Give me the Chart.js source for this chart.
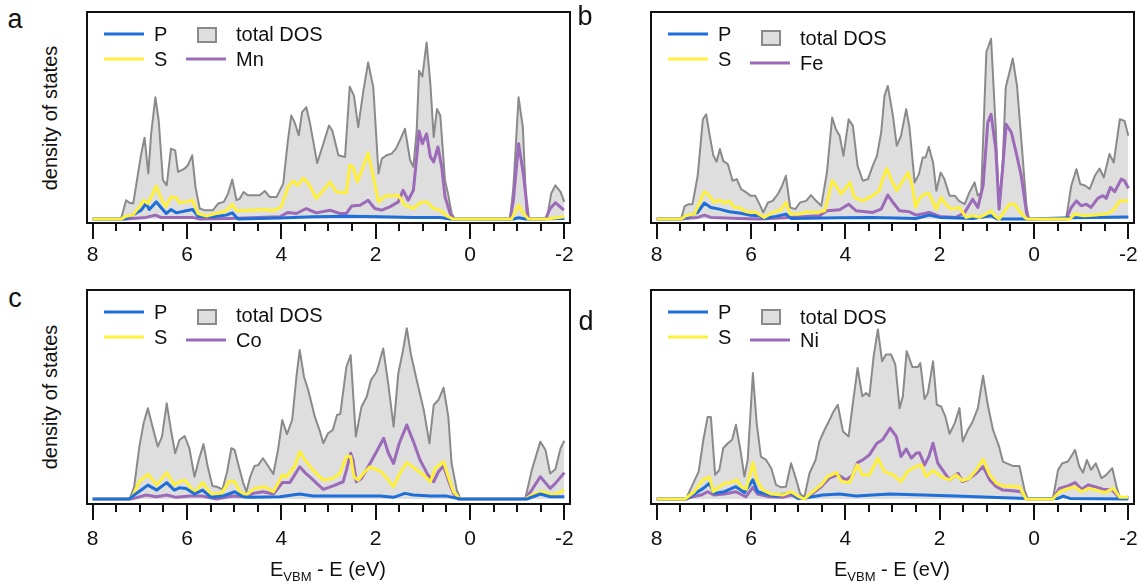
<!DOCTYPE html>
<html>
<head>
<meta charset="utf-8">
<title>Projected density of states</title>
<script src="https://cdn.jsdelivr.net/npm/chart.js@4.4.1/dist/chart.umd.min.js"></script>
<style>
  html, body { margin: 0; padding: 0; background: #fff; }
  #fig { position: relative; width: 1138px; height: 586px; overflow: hidden;
         font-family: "Liberation Sans", Arial, Helvetica, sans-serif; color: #111; }
  .panel { position: absolute; }
  .txt { position: absolute; white-space: nowrap; line-height: 1; transform: translateY(-50%); }
  .letter { position: absolute; font-size: 27px; line-height: 1; transform: translate(-50%, -50%); }
  .ytitle { position: absolute; font-size: 20px; line-height: 1; white-space: nowrap;
            transform: translate(-50%, -50%) rotate(-90deg); }
  .xtitle { position: absolute; font-size: 20px; line-height: 1; white-space: nowrap;
            transform: translate(-50%, -50%); }
  .xtitle sub { font-size: 13px; vertical-align: -5px; }
  .lline { position: absolute; height: 3px; transform: translateY(-50%); }
  .lbox { position: absolute; box-sizing: border-box; border: 2px solid #8a8a8a; background: #dedede; }
</style>
</head>
<body>
<div id="fig">
  <div class="panel" style="left:80px;top:0px"><canvas id="chart-a" width="500" height="280"></canvas></div>
  <div class="panel" style="left:640px;top:0px"><canvas id="chart-b" width="498" height="280"></canvas></div>
  <div class="panel" style="left:80px;top:280px"><canvas id="chart-c" width="500" height="290"></canvas></div>
  <div class="panel" style="left:640px;top:280px"><canvas id="chart-d" width="498" height="290"></canvas></div>

  <div class="letter" style="left:15px;top:19px">a</div>
  <div class="letter" style="left:585px;top:16px">b</div>
  <div class="letter" style="left:15px;top:298px">c</div>
  <div class="letter" style="left:586px;top:321px">d</div>

  <div class="ytitle" style="left:50px;top:118px">density of states</div>
  <div class="ytitle" style="left:50px;top:397px">density of states</div>

  <div class="xtitle" style="left:328px;top:571px">E<sub>VBM</sub> - E (eV)</div>
  <div class="xtitle" style="left:892px;top:571px">E<sub>VBM</sub> - E (eV)</div>
</div>

<script>
(function () {
  // energy ticks (eV), axis runs from 8 down to -2
  var majorTicks = [8, 6, 4, 2, 0, -2];
  var minorTicks = [7.5, 7, 6.5, 5.5, 5, 4.5, 3.5, 3, 2.5, 1.5, 1, 0.5, -0.5, -1, -1.5];

  var COLORS = {
    total: "#8a8a8a",
    totalFill: "#dedede",
    P: "#1f6fd8",
    S: "#fff03c",
    metal: "#9b6ab8"
  };

  // ---- MnPS3 ----
  var aTotal = [[8,0],[7.4,0],[7.29,0.91],[7.22,0.79],[7.14,0.75],[6.97,3.16],[6.9,3.93],[6.82,2.2],[6.76,4.12],[6.67,5.88],[6.6,4.76],[6.51,1.88],[6.43,1.63],[6.34,3.4],[6.25,3.32],[6.19,2.28],[6.05,2.44],[5.98,2.6],[5.89,3.08],[5.82,1.55],[5.73,0.51],[5.63,0.43],[5.45,0.43],[5.34,0.75],[5.22,0.83],[5.13,1.23],[5.04,1.91],[4.95,0.91],[4.88,0.99],[4.8,1.31],[4.71,1.15],[4.46,1.15],[4.35,1.36],[4.25,1.07],[4.1,1.07],[3.96,1.71],[3.86,3.8],[3.79,5.0],[3.72,4.68],[3.63,4.04],[3.56,5.16],[3.47,5.4],[3.39,4.6],[3.24,2.71],[3.11,3.64],[2.99,4.52],[2.92,4.28],[2.79,3.08],[2.65,3.0],[2.55,6.39],[2.46,5.96],[2.37,4.44],[2.26,6.2],[2.16,7.56],[2.05,6.36],[1.94,2.2],[1.87,2.92],[1.77,3.08],[1.66,3.16],[1.57,3.4],[1.47,3.88],[1.38,4.36],[1.27,2.84],[1.2,2.52],[1.13,4.28],[1.08,7.16],[1.01,6.88],[0.92,8.53],[0.84,6.52],[0.77,3.96],[0.7,5.32],[0.63,5.0],[0.53,1.88],[0.46,1.15],[0.39,0.27],[0.32,0],[-0.85,0],[-0.92,1.55],[-1.03,5.88],[-1.12,4.44],[-1.2,0.27],[-1.27,0],[-1.63,0],[-1.72,1.23],[-1.81,1.63],[-1.92,1.31],[-2,0.83]];
  var aMn = [[8,0],[7.29,0],[7.15,0.03],[6.87,0.08],[6.67,0.19],[6.55,0.08],[6.23,0.08],[5.88,0.08],[5.73,0],[5.1,0.03],[4.03,0.11],[3.86,0.32],[3.68,0.27],[3.47,0.51],[3.26,0.3],[2.97,0.43],[2.76,0.27],[2.62,0.27],[2.51,0.63],[2.33,0.67],[2.16,0.91],[2.02,0.51],[1.87,0.43],[1.7,0.59],[1.52,0.83],[1.42,1.39],[1.31,0.91],[1.2,1.39],[1.13,3.0],[1.08,4.25],[1.01,3.64],[0.92,4.12],[0.84,3.0],[0.77,2.76],[0.68,3.48],[0.6,2.52],[0.53,1.07],[0.42,0.27],[0.35,0],[-0.85,0],[-0.92,0.91],[-1.03,3.64],[-1.13,2.2],[-1.24,0],[-1.6,0],[-1.7,0.51],[-1.81,0.79],[-1.99,0.43]];
  var aS = [[8,0],[7.4,0],[7.29,0.14],[7.15,0.19],[7.01,0.59],[6.92,0.91],[6.83,0.75],[6.74,1.15],[6.65,1.59],[6.55,0.99],[6.45,0.59],[6.34,1.07],[6.23,1.04],[6.16,0.79],[6.02,0.83],[5.88,0.91],[5.77,0.27],[5.59,0.14],[5.38,0.27],[5.17,0.4],[5.04,0.72],[4.95,0.4],[4.6,0.43],[4.32,0.46],[4.18,0.4],[4.0,0.59],[3.86,1.55],[3.75,1.84],[3.65,1.63],[3.53,1.99],[3.4,1.63],[3.26,0.99],[3.11,1.39],[2.97,1.79],[2.83,1.31],[2.62,1.27],[2.55,2.6],[2.48,2.52],[2.39,1.79],[2.28,2.44],[2.16,3.19],[2.05,2.04],[1.94,0.83],[1.8,1.11],[1.52,1.15],[1.38,0.67],[1.2,0.51],[1.06,0.79],[0.92,0.83],[0.77,0.51],[0.63,0.43],[0.49,0.14],[0.35,0],[-0.88,0],[-1.03,0.67],[-1.13,0.27],[-1.24,0],[-1.63,0],[-2,0.11]];
  var aP = [[8,0],[7.4,0],[7.29,0.03],[6.97,0.43],[6.87,0.75],[6.8,0.46],[6.65,0.83],[6.55,0.56],[6.44,0.27],[6.34,0.46],[6.23,0.3],[6.02,0.4],[5.88,0.46],[5.77,0.14],[5.45,0.11],[5.17,0.19],[5.04,0.3],[4.92,0],[4.03,0.05],[3.32,0.11],[2.55,0.14],[1.91,0.11],[1.2,0.08],[0.63,0.08],[0.42,0],[-0.92,0],[-1.03,0.06],[-1.17,0],[-2,0.03]];

  // ---- FePS3 ----
  var bTotal = [[8,0],[7.48,0],[7.41,0.61],[7.32,0.72],[7.24,0.72],[7.13,2.09],[7.02,4.82],[6.95,5.06],[6.88,4.1],[6.8,3.09],[6.73,2.77],[6.66,3.38],[6.59,2.81],[6.49,2.65],[6.39,1.85],[6.3,1.93],[6.21,1.45],[6.1,1.29],[6.01,1.13],[5.91,1.13],[5.82,0.72],[5.74,0.32],[5.64,0.8],[5.54,0.88],[5.43,1.21],[5.34,1.61],[5.26,2.09],[5.17,0.56],[5.06,0.48],[4.96,0.8],[4.83,0.88],[4.73,1.16],[4.62,0.88],[4.51,0.64],[4.39,2.25],[4.28,4.9],[4.2,4.34],[4.12,4.02],[4.04,3.05],[3.93,4.82],[3.84,4.5],[3.74,2.57],[3.63,1.85],[3.52,1.93],[3.42,2.57],[3.33,3.05],[3.24,4.18],[3.17,5.95],[3.1,6.43],[2.99,4.98],[2.91,3.54],[2.82,4.02],[2.71,5.31],[2.64,4.42],[2.53,1.77],[2.44,2.17],[2.36,2.97],[2.3,2.97],[2.23,3.49],[2.14,2.73],[2.07,1.37],[1.98,2.25],[1.9,1.93],[1.79,1.13],[1.68,1.13],[1.59,0.88],[1.47,0.72],[1.37,1.29],[1.26,1.77],[1.19,1.13],[1.12,1.29],[1.01,8.07],[0.91,8.71],[0.81,4.34],[0.74,0.48],[0.66,2.89],[0.6,6.35],[0.53,6.99],[0.45,7.75],[0.36,6.43],[0.27,3.86],[0.16,0.64],[0.11,0],[-0.68,0],[-0.79,1.61],[-0.9,2.41],[-0.98,1.69],[-1.09,1.61],[-1.18,1.45],[-1.29,2.09],[-1.39,2.44],[-1.48,2.01],[-1.6,3.14],[-1.69,2.73],[-1.82,4.82],[-1.92,4.74],[-2,4.02]];
  var bFe = [[8,0],[7.48,0],[7.38,0.03],[7.13,0.08],[6.99,0.19],[6.85,0.08],[6.25,0.03],[5.82,0],[5.26,0.06],[4.55,0.16],[4.39,0.4],[4.12,0.45],[3.93,0.72],[3.77,0.4],[3.42,0.32],[3.24,0.48],[3.1,1.16],[2.99,0.8],[2.85,0.4],[2.64,0.35],[2.5,0.19],[2.22,0.32],[2.0,0.13],[1.65,0.08],[1.47,0.32],[1.3,0.96],[1.19,0.56],[1.08,1.61],[0.98,4.66],[0.91,5.06],[0.81,3.38],[0.74,0.48],[0.66,2.57],[0.59,4.58],[0.48,4.18],[0.38,3.22],[0.27,2.09],[0.16,0.32],[0.11,0],[-0.68,0],[-0.79,0.56],[-0.9,0.88],[-1.0,0.64],[-1.11,0.72],[-1.21,0.56],[-1.35,1.0],[-1.46,1.13],[-1.53,1.0],[-1.62,1.53],[-1.71,1.32],[-1.85,1.93],[-1.92,1.85],[-2,1.48]];
  var bS = [[8,0],[7.48,0],[7.38,0.16],[7.2,0.24],[7.09,0.8],[6.99,1.32],[6.88,1.13],[6.78,0.8],[6.67,0.93],[6.56,0.77],[6.47,0.88],[6.35,0.56],[6.25,0.56],[6.1,0.35],[5.89,0.32],[5.72,0.08],[5.54,0.32],[5.36,0.45],[5.26,0.8],[5.17,0.24],[4.97,0.24],[4.83,0.35],[4.62,0.32],[4.44,0.4],[4.37,0.96],[4.28,1.85],[4.2,1.61],[4.09,1.21],[3.98,1.53],[3.9,1.77],[3.81,1.05],[3.63,0.88],[3.42,1.13],[3.28,1.37],[3.21,1.93],[3.12,2.44],[3.03,1.93],[2.91,1.37],[2.78,1.85],[2.67,2.25],[2.58,1.61],[2.51,0.56],[2.43,1.0],[2.32,1.21],[2.23,1.24],[2.14,0.8],[2.07,0.48],[1.97,1.05],[1.88,0.72],[1.76,0.48],[1.58,0.56],[1.44,0.08],[1.3,0.16],[1.16,0.08],[1.01,0.24],[0.91,0.4],[0.83,0.16],[0.74,0],[0.62,0.4],[0.52,0.72],[0.41,0.72],[0.31,0.4],[0.2,0.08],[0.13,0],[-0.76,0],[-0.86,0.24],[-1.04,0.16],[-1.25,0.19],[-1.53,0.24],[-1.67,0.4],[-1.82,0.88],[-2,0.88]];
  var bP = [[8,0],[7.48,0],[7.38,0.08],[7.13,0.32],[6.99,0.77],[6.85,0.56],[6.67,0.48],[6.46,0.35],[6.25,0.29],[6.03,0.19],[5.82,0.16],[5.72,0.03],[5.47,0.13],[5.26,0.24],[5.15,0.03],[4.12,0.06],[3.42,0.08],[2.5,0.03],[2.22,0.19],[2.0,0.08],[1.3,0.03],[0.91,0.16],[0.77,0],[0.16,0],[-0.83,0.06],[-2,0.1]];

  // ---- CoPS3 ----
  var cTotal = [[8,0],[7.22,0],[7.12,0.59],[7.01,2.52],[6.92,3.64],[6.83,4.36],[6.73,3.48],[6.62,2.52],[6.53,3.0],[6.43,4.6],[6.34,3.32],[6.25,2.2],[6.16,2.84],[6.05,3.03],[5.95,2.44],[5.84,1.07],[5.75,1.88],[5.65,2.64],[5.56,1.55],[5.46,0.63],[5.37,0.59],[5.25,0.46],[5.15,1.31],[5.06,2.44],[4.99,2.36],[4.9,1.55],[4.81,0.79],[4.74,0.35],[4.66,1.07],[4.57,1.59],[4.49,1.63],[4.39,1.96],[4.28,1.59],[4.17,1.2],[4.07,2.36],[3.98,3.8],[3.88,3.12],[3.77,3.8],[3.68,5.88],[3.61,7.16],[3.52,5.88],[3.43,5.24],[3.29,3.96],[3.18,3.24],[3.11,2.68],[3.01,3.16],[2.91,3.32],[2.82,4.04],[2.75,4.09],[2.62,6.36],[2.53,6.92],[2.42,3.0],[2.3,4.44],[2.19,4.92],[2.1,5.72],[1.98,6.12],[1.84,7.24],[1.73,5.48],[1.62,3.48],[1.52,6.04],[1.42,7.16],[1.34,8.21],[1.25,6.92],[1.13,5.72],[0.98,4.28],[0.86,2.68],[0.77,4.52],[0.67,4.76],[0.56,5.35],[0.46,3.96],[0.39,1.71],[0.28,0.43],[0.2,0],[-1.17,0],[-1.31,1.39],[-1.49,2.76],[-1.6,2.36],[-1.7,1.23],[-1.81,1.43],[-1.92,2.44],[-2,2.8]];
  var cCo = [[8,0],[7.22,0],[7.12,0.03],[6.87,0.19],[6.65,0.11],[6.43,0.19],[6.23,0.08],[5.95,0.14],[5.67,0.14],[5.38,0],[5.03,0.14],[4.74,0.11],[4.6,0.27],[4.39,0.35],[4.17,0.24],[4.07,0.51],[3.98,0.79],[3.82,0.79],[3.72,1.15],[3.61,1.55],[3.5,1.27],[3.36,0.99],[3.25,0.75],[3.11,0.46],[2.9,0.63],[2.69,0.83],[2.62,1.39],[2.53,2.2],[2.48,1.88],[2.41,0.83],[2.3,0.99],[2.12,1.71],[1.98,2.28],[1.83,2.92],[1.73,2.2],[1.62,1.71],[1.5,2.68],[1.34,3.56],[1.2,2.76],[1.06,1.88],[0.89,1.15],[0.77,0.83],[0.67,1.31],[0.56,1.59],[0.46,0.91],[0.35,0.27],[0.25,0],[-1.17,0],[-1.31,0.43],[-1.49,1.07],[-1.7,0.51],[-1.81,0.75],[-2,1.27]];
  var cS = [[8,0],[7.22,0],[7.15,0.14],[7.01,0.83],[6.83,1.19],[6.64,0.67],[6.43,1.27],[6.27,0.67],[6.16,0.83],[6.04,0.91],[5.84,0.3],[5.67,0.79],[5.49,0.24],[5.27,0.27],[5.1,0.87],[4.99,0.83],[4.88,0.35],[4.74,0.19],[4.57,0.51],[4.35,0.59],[4.17,0.35],[4.05,0.83],[3.98,1.15],[3.89,1.07],[3.72,1.55],[3.61,2.28],[3.5,1.88],[3.33,1.39],[3.11,0.91],[2.9,0.99],[2.76,1.23],[2.62,2.04],[2.53,2.04],[2.46,1.07],[2.37,0.91],[2.23,1.31],[2.12,1.55],[1.88,1.31],[1.73,0.91],[1.62,0.59],[1.48,1.27],[1.34,1.75],[1.17,1.47],[0.98,1.15],[0.84,0.83],[0.74,1.47],[0.56,1.79],[0.46,1.07],[0.35,0.35],[0.21,0],[-1.17,0],[-1.31,0.19],[-1.52,0.35],[-1.77,0.19],[-2,0.43]];
  var cP = [[8,0],[7.22,0],[7.12,0.19],[6.97,0.43],[6.83,0.67],[6.64,0.43],[6.43,0.79],[6.27,0.43],[6.16,0.54],[6.02,0.51],[5.84,0.24],[5.67,0.43],[5.49,0.08],[5.24,0.14],[4.99,0.35],[4.81,0.11],[4.67,0.08],[4.03,0.11],[3.61,0.24],[3.33,0.14],[2.62,0.14],[1.91,0.14],[1.62,0.08],[1.38,0.27],[1.2,0.19],[0.84,0.14],[0.49,0.14],[0.21,0],[-1.21,0],[-1.49,0.24],[-1.7,0.11],[-2,0.11]];

  // ---- NiPS3 ----
  var dTotal = [[8,0],[7.38,0],[7.24,0.68],[7.11,1.32],[7.01,2.85],[6.92,3.94],[6.85,3.94],[6.76,1.16],[6.67,1.4],[6.59,2.44],[6.49,2.68],[6.4,2.85],[6.32,3.57],[6.23,2.44],[6.14,1.08],[6.07,1.88],[5.96,6.06],[5.88,3.65],[5.79,2.04],[5.68,1.88],[5.57,1.48],[5.47,0.68],[5.36,0.56],[5.26,0.59],[5.15,1.72],[5.04,0.92],[4.96,0.27],[4.87,0.08],[4.76,1.24],[4.63,1.88],[4.55,2.77],[4.44,3.33],[4.35,3.73],[4.25,4.21],[4.16,4.53],[4.05,3.25],[3.93,3.01],[3.84,4.61],[3.74,6.3],[3.64,4.94],[3.56,5.1],[3.49,4.94],[3.4,6.86],[3.31,8.15],[3.22,6.62],[3.14,6.95],[3.03,6.95],[2.94,6.46],[2.85,4.37],[2.78,4.94],[2.7,7.11],[2.58,6.35],[2.46,6.35],[2.41,6.54],[2.32,4.81],[2.25,5.1],[2.14,6.62],[2.06,4.53],[1.97,4.45],[1.88,3.97],[1.79,3.14],[1.68,3.65],[1.58,4.37],[1.51,2.77],[1.4,3.33],[1.3,3.73],[1.19,4.37],[1.08,5.93],[0.98,4.53],[0.87,3.33],[0.74,2.52],[0.66,1.8],[0.55,1.69],[0.45,1.59],[0.31,1.59],[0.2,0.43],[0.13,0],[-0.4,0],[-0.51,1.4],[-0.6,1.72],[-0.72,1.8],[-0.87,2.36],[-0.96,1.56],[-1.04,1.27],[-1.12,1.88],[-1.21,1.4],[-1.31,1.72],[-1.43,1.0],[-1.53,1.16],[-1.66,1.48],[-1.75,0.59],[-1.82,0.08],[-2,0.08]];
  var dNi = [[8,0],[7.38,0],[7.24,0.11],[7.06,0.19],[6.92,0.35],[6.78,0.19],[6.57,0.24],[6.32,0.35],[6.11,0.11],[5.96,0.56],[5.86,0.24],[5.61,0.11],[5.33,0.08],[5.15,0.19],[4.97,0.03],[4.83,0.03],[4.69,0.27],[4.51,0.59],[4.34,1.0],[4.16,1.16],[3.98,0.92],[3.84,1.16],[3.74,1.75],[3.63,1.88],[3.49,2.12],[3.33,2.68],[3.21,2.85],[3.05,3.41],[2.92,3.01],[2.82,2.04],[2.71,2.4],[2.6,1.96],[2.5,2.2],[2.43,2.23],[2.32,1.64],[2.23,2.04],[2.14,2.68],[2.04,1.72],[1.9,1.27],[1.79,0.92],[1.61,1.24],[1.52,0.84],[1.4,0.95],[1.22,1.24],[1.08,1.56],[0.94,0.92],[0.8,0.59],[0.66,0.43],[0.45,0.4],[0.27,0.35],[0.17,0],[-0.4,0],[-0.54,0.51],[-0.72,0.63],[-0.87,0.79],[-1.01,0.47],[-1.15,0.68],[-1.29,0.59],[-1.46,0.47],[-1.66,0.43],[-1.82,0.03],[-2,0.08]];
  var dS = [[8,0],[7.4,0],[7.2,0.35],[7.02,0.92],[6.88,1.05],[6.8,0.35],[6.67,0.59],[6.56,0.76],[6.42,0.79],[6.3,0.92],[6.21,0.59],[6.1,0.47],[5.96,1.75],[5.88,0.92],[5.75,0.43],[5.57,0.24],[5.33,0.19],[5.15,0.35],[5.01,0.14],[4.87,0],[4.69,0.35],[4.51,0.68],[4.37,1.08],[4.19,1.27],[4.08,0.84],[3.91,0.79],[3.75,1.64],[3.64,1.16],[3.49,1.16],[3.31,1.96],[3.17,1.32],[2.99,1.16],[2.82,0.84],[2.68,1.32],[2.5,1.56],[2.39,1.64],[2.29,1.08],[2.14,1.37],[1.97,1.08],[1.79,0.92],[1.65,1.16],[1.52,0.88],[1.37,1.0],[1.22,1.4],[1.08,1.91],[0.94,1.16],[0.8,0.76],[0.66,0.63],[0.31,0.59],[0.17,0],[-0.4,0],[-0.54,0.35],[-0.68,0.47],[-0.87,0.59],[-1.01,0.35],[-1.15,0.51],[-1.32,0.43],[-1.5,0.31],[-1.68,0.51],[-1.82,0.08],[-2,0.08]];
  var dP = [[8,0],[7.38,0],[7.24,0.19],[7.01,0.51],[6.88,0.76],[6.78,0.27],[6.57,0.35],[6.32,0.59],[6.14,0.31],[5.96,0.92],[5.86,0.35],[5.68,0.24],[5.47,0.14],[5.15,0.31],[5.01,0.03],[4.76,0.08],[4.48,0.19],[4.12,0.24],[3.77,0.14],[3.06,0.24],[2.36,0.19],[1.65,0.14],[0.94,0.08],[0.16,0.03],[-0.51,0.03],[-0.62,0.14],[-0.76,0.03],[-2,0]];

  // box frame + long/short ticks under the energy axis
  var frameTicks = {
    id: "frameTicks",
    afterDraw: function (chart) {
      var a = chart.chartArea;
      var sx = chart.scales.x;
      var ctx = chart.ctx;
      ctx.save();
      ctx.strokeStyle = "#111";
      ctx.lineWidth = 2;
      ctx.strokeRect(a.left, a.top, a.right - a.left, a.bottom - a.top);
      ctx.beginPath();
      majorTicks.forEach(function (v) {
        var px = Math.round(sx.getPixelForValue(v));
        ctx.moveTo(px, a.bottom);
        ctx.lineTo(px, a.bottom + 16);
      });
      minorTicks.forEach(function (v) {
        var px = Math.round(sx.getPixelForValue(v));
        ctx.moveTo(px, a.bottom);
        ctx.lineTo(px, a.bottom + 8);
      });
      ctx.stroke();
      ctx.restore();
    }
  };

  function lineSet(label, data, color, width, order) {
    return {
      label: label,
      data: data,
      borderColor: color,
      borderWidth: width,
      borderJoinStyle: "round",
      pointRadius: 0,
      fill: false,
      tension: 0,
      order: order
    };
  }

  function addLegend(cfg) {
    var fig = document.getElementById("fig");
    var L = cfg.frameLeft, T = cfg.frameTop;
    var html =
      '<div class="lline" style="left:' + (L + 17) + 'px;top:' + (T + 22) + 'px;width:40px;background:' + COLORS.P + '"></div>' +
      '<div class="txt" style="left:' + (L + 67) + 'px;top:' + (T + 22) + 'px;font-size:20px">P</div>' +
      '<div class="lline" style="left:' + (L + 17) + 'px;top:' + (T + 47) + 'px;width:40px;background:' + COLORS.S + '"></div>' +
      '<div class="txt" style="left:' + (L + 67) + 'px;top:' + (T + 47) + 'px;font-size:20px">S</div>' +
      '<div class="lbox" style="left:' + (L + 110) + 'px;top:' + (T + cfg.boxTop) + 'px;width:20px;height:16px"></div>' +
      '<div class="txt" style="left:' + (L + 149) + 'px;top:' + (T + cfg.totalY) + 'px;font-size:20px">total DOS</div>' +
      '<div class="lline" style="left:' + (L + 99) + 'px;top:' + (T + cfg.metalY) + 'px;width:40px;background:' + COLORS.metal + '"></div>' +
      '<div class="txt" style="left:' + (L + 149) + 'px;top:' + (T + cfg.metalY) + 'px;font-size:20px">' + cfg.metal + '</div>';
    fig.insertAdjacentHTML("beforeend", html);
  }

  function makePanel(cfg) {
    var ord = cfg.order; // smaller = drawn on top
    new Chart(document.getElementById(cfg.canvas), {
      type: "line",
      data: {
        datasets: [
          {
            label: "total DOS",
            data: cfg.total,
            borderColor: COLORS.total,
            backgroundColor: COLORS.totalFill,
            borderWidth: 2,
            borderJoinStyle: "round",
            pointRadius: 0,
            fill: "origin",
            tension: 0,
            order: 4
          },
          lineSet(cfg.metal, cfg.metalData, COLORS.metal, 3, ord.metal),
          lineSet("S", cfg.S, COLORS.S, 3, ord.S),
          lineSet("P", cfg.P, COLORS.P, 3, ord.P)
        ]
      },
      options: {
        responsive: false,
        animation: false,
        events: [],
        layout: { padding: { left: cfg.padLeft, right: cfg.padRight, top: cfg.padTop, bottom: 0 } },
        plugins: { legend: { display: false }, tooltip: { enabled: false } },
        scales: {
          x: {
            type: "linear",
            reverse: true,
            min: -2.12,
            max: 8.12,
            grid: { display: false, drawTicks: false },
            border: { display: false },
            afterBuildTicks: function (scale) {
              scale.ticks = majorTicks.map(function (v) { return { value: v }; });
            },
            afterFit: function (scale) {
              scale.height = cfg.axisHeight;
              scale.paddingLeft = 0;
              scale.paddingRight = 0;
            },
            ticks: {
              padding: cfg.labelPad,
              maxRotation: 0,
              autoSkip: false,
              color: "#111",
              font: { family: "'Liberation Sans', Arial, sans-serif", size: 21 },
              callback: function (v) { return String(v); }
            }
          },
          y: { display: false, min: cfg.yMin, max: cfg.yMax }
        }
      },
      plugins: [frameTicks]
    });
    addLegend(cfg);
  }

  makePanel({
    canvas: "chart-a", total: aTotal, metalData: aMn, S: aS, P: aP, metal: "Mn",
    order: { S: 1, P: 2, metal: 3 },
    padLeft: 7, padRight: 10, padTop: 12, axisHeight: 57, labelPad: 20, yMin: -0.19, yMax: 10,
    frameLeft: 87, frameTop: 12, boxTop: 15, totalY: 22, metalY: 47
  });
  makePanel({
    canvas: "chart-b", total: bTotal, metalData: bFe, S: bS, P: bP, metal: "Fe",
    order: { S: 1, P: 2, metal: 3 },
    padLeft: 11, padRight: 4, padTop: 12, axisHeight: 57, labelPad: 20, yMin: -0.19, yMax: 10,
    frameLeft: 651, frameTop: 12, boxTop: 18, totalY: 26, metalY: 51
  });
  makePanel({
    canvas: "chart-c", total: cTotal, metalData: cCo, S: cS, P: cP, metal: "Co",
    order: { P: 1, S: 2, metal: 3 },
    padLeft: 7, padRight: 10, padTop: 10, axisHeight: 66, labelPad: 23, yMin: -0.24, yMax: 10.05,
    frameLeft: 87, frameTop: 290, boxTop: 19, totalY: 25, metalY: 50
  });
  makePanel({
    canvas: "chart-d", total: dTotal, metalData: dNi, S: dS, P: dP, metal: "Ni",
    order: { S: 1, P: 2, metal: 3 },
    padLeft: 11, padRight: 4, padTop: 10, axisHeight: 66, labelPad: 23, yMin: -0.24, yMax: 10.05,
    frameLeft: 651, frameTop: 290, boxTop: 19, totalY: 27, metalY: 50
  });
})();
</script>
</body>
</html>
